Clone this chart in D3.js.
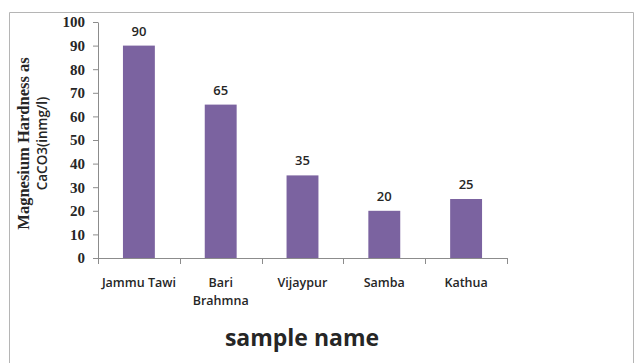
<!DOCTYPE html>
<html>
<head>
<meta charset="utf-8">
<script src="https://cdn.jsdelivr.net/npm/d3@7"></script>
<style>
  html, body { margin: 0; padding: 0; background: #fff; }
  svg { display: block; }
</style>
</head>
<body>
<svg id="chart" width="641" height="363"></svg>
<script>
// Sample sites and their magnesium hardness (as CaCO3, mg/l)
const categories = ["Jammu Tawi", "Bari Brahmna", "Vijaypur", "Samba", "Kathua"];
const categoryLines = [["Jammu Tawi"], ["Bari", "Brahmna"], ["Vijaypur"], ["Samba"], ["Kathua"]];
const values = [90, 65, 35, 20, 25];
const yTicks = [0, 10, 20, 30, 40, 50, 60, 70, 80, 90, 100];

const svg = d3.select("#chart");
const W = 641, H = 363;

// outer chart frame (open at the bottom)
svg.append("path")
  .attr("d", `M9.5,${H} V12.5 H633.5 V${H}`)
  .attr("fill", "none")
  .attr("stroke", "#b5b5b5")
  .attr("stroke-width", 1);

const plot = { left: 98, right: 507, top: 22, bottom: 258 };

const x = d3.scaleBand()
  .domain(categories)
  .range([plot.left, plot.right])
  .padding(0);

const y = d3.scaleLinear()
  .domain([0, 100])
  .range([plot.bottom, plot.top]);

const barW = x.bandwidth() * 0.39;
const axisColor = "#8c8c8c";
const textColor = "#262626";

// bars
svg.append("g").selectAll("rect")
  .data(values)
  .join("rect")
  .attr("x", (d, i) => x(categories[i]) + x.bandwidth() / 2 - barW / 2)
  .attr("y", d => y(d))
  .attr("width", barW)
  .attr("height", d => y(0) - y(d))
  .attr("fill", "#7b63a0");

// value labels
svg.append("g").selectAll("text")
  .data(values)
  .join("text")
  .attr("x", (d, i) => x(categories[i]) + x.bandwidth() / 2)
  .attr("y", d => y(d) - 10)
  .attr("text-anchor", "middle")
  .attr("font-family", "'Open Sans', sans-serif")
  .attr("font-size", 13)
  .attr("font-weight", 600)
  .attr("fill", textColor)
  .text(d => d);

// y axis
const yAxis = svg.append("g")
  .attr("transform", `translate(${plot.left},0)`)
  .call(d3.axisLeft(y).tickValues(yTicks).tickSize(5).tickPadding(8).tickSizeOuter(0));
yAxis.select(".domain").attr("stroke", axisColor);
yAxis.selectAll(".tick line").attr("stroke", axisColor);
yAxis.selectAll(".tick text")
  .attr("font-family", "'Liberation Serif', 'Times New Roman', serif")
  .attr("font-size", 15)
  .attr("font-weight", "bold")
  .attr("fill", textColor);

// x axis: category boundaries as tick marks
const xAxis = svg.append("g");
xAxis.append("line")
  .attr("x1", plot.left).attr("x2", plot.right)
  .attr("y1", y(0) + 0.5).attr("y2", y(0) + 0.5)
  .attr("stroke", axisColor);
const bounds = categories.map(c => x(c)).concat([x(categories[categories.length - 1]) + x.bandwidth()]);
xAxis.selectAll("line.tk")
  .data(bounds)
  .join("line")
  .attr("class", "tk")
  .attr("x1", d => Math.round(d) + 0.5).attr("x2", d => Math.round(d) + 0.5)
  .attr("y1", y(0)).attr("y2", y(0) + 6)
  .attr("stroke", axisColor);

// category labels
const xl = svg.append("g").selectAll("text")
  .data(categoryLines)
  .join("text")
  .attr("x", (d, i) => x(categories[i]) + x.bandwidth() / 2)
  .attr("y", 287)
  .attr("text-anchor", "middle")
  .attr("font-family", "'Open Sans', sans-serif")
  .attr("font-size", 12.5)
  .attr("font-weight", 600)
  .attr("fill", textColor);
xl.selectAll("tspan")
  .data(d => d)
  .join("tspan")
  .attr("x", function () { return this.parentNode.getAttribute("x"); })
  .attr("dy", (d, i) => i === 0 ? 0 : 18)
  .text(d => d);

// x axis title
svg.append("text")
  .attr("x", 302)
  .attr("y", 346)
  .attr("text-anchor", "middle")
  .attr("font-family", "'Open Sans', sans-serif")
  .attr("font-size", 23)
  .attr("font-weight", "bold")
  .attr("fill", textColor)
  .text("sample name");

// y axis title (two lines)
const yt = svg.append("g").attr("transform", "translate(0,143.5) rotate(-90)");
yt.append("text")
  .attr("x", 0).attr("y", 29)
  .attr("text-anchor", "middle")
  .attr("font-family", "'Liberation Serif', 'Times New Roman', serif")
  .attr("font-size", 16.5)
  .attr("font-weight", "bold")
  .attr("fill", textColor)
  .text("Magnesium Hardness as");
yt.append("text")
  .attr("x", 0).attr("y", 47)
  .attr("text-anchor", "middle")
  .attr("font-family", "'Open Sans', sans-serif")
  .attr("font-size", 13.5)
  .attr("font-weight", 600)
  .attr("fill", textColor)
  .text("CaCO3(inmg/l)");
</script>
</body>
</html>
